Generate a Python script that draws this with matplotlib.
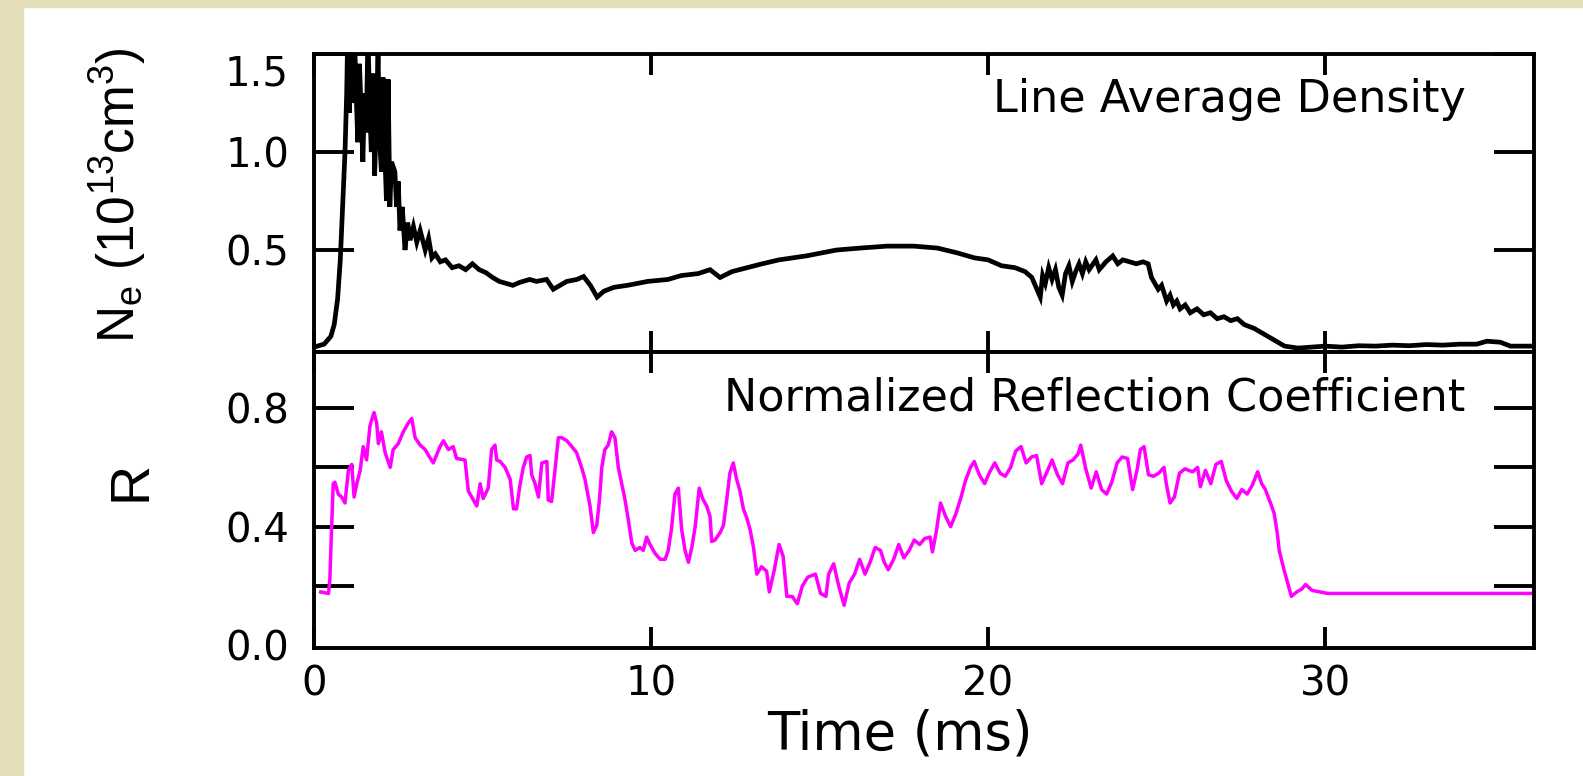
import matplotlib
matplotlib.use("Agg")
import matplotlib.pyplot as plt
from matplotlib import font_manager
from matplotlib.patches import Rectangle

# ---------------- data ----------------
density_t = [0.0, 0.3, 0.5, 0.6, 0.7, 0.78, 0.85, 0.92, 0.97, 1.0, 1.05, 1.1, 1.15, 1.2, 1.25,
             1.3, 1.35, 1.4, 1.45, 1.5, 1.55, 1.6, 1.65, 1.7, 1.75, 1.8, 1.85, 1.9, 1.95, 2.0,
             2.05, 2.1, 2.15, 2.2, 2.25, 2.3, 2.4, 2.45, 2.5, 2.55, 2.62, 2.7, 2.78, 2.85, 2.95,
             3.05, 3.15, 3.3, 3.4, 3.5, 3.6, 3.75, 3.9, 4.1, 4.3, 4.5, 4.7, 4.9, 5.1, 5.3,
             5.5, 5.7, 5.9, 6.1, 6.4, 6.6, 6.9, 7.1, 7.3, 7.5, 7.8, 8.0, 8.2, 8.4, 8.6,
             8.9, 9.3, 9.9, 10.5, 10.9, 11.4, 11.75, 12.05, 12.4, 12.85, 13.3, 13.8, 14.6, 15.5, 16.2,
             17.0, 17.8, 18.5, 19.1, 19.6, 20.0, 20.4, 20.8, 21.1, 21.3, 21.45, 21.55, 21.62, 21.7, 21.8,
             21.9, 22.0, 22.1, 22.2, 22.3, 22.4, 22.5, 22.6, 22.7, 22.8, 22.9, 23.0, 23.2, 23.3, 23.5,
             23.7, 23.85, 24.0, 24.2, 24.4, 24.6, 24.75, 24.85, 24.95, 25.05, 25.15, 25.3, 25.4, 25.5, 25.6,
             25.7, 25.85, 26.0, 26.2, 26.4, 26.6, 26.8, 27.0, 27.2, 27.4, 27.6, 27.9, 28.2, 28.5, 28.8,
             29.2, 29.6, 30.0, 30.5, 31.0, 31.5, 32.0, 32.5, 33.0, 33.5, 34.0, 34.5, 34.8, 35.2, 35.5,
             36.2]
density_v = [0.005, 0.02, 0.06, 0.12, 0.25, 0.45, 0.72, 1.0, 1.3, 1.6, 1.2, 1.55, 1.25, 1.6, 1.3,
             1.05, 1.45, 1.2, 0.95, 1.3, 1.1, 1.6, 1.25, 1.0, 1.4, 0.88, 1.2, 1.5, 1.05, 0.9,
             1.38, 1.0, 0.75, 1.37, 0.72, 0.95, 0.9, 0.72, 0.85, 0.6, 0.72, 0.5, 0.64, 0.55, 0.62,
             0.54, 0.6, 0.5, 0.56, 0.46, 0.48, 0.44, 0.45, 0.41, 0.42, 0.40, 0.43, 0.40, 0.385, 0.36,
             0.34, 0.33, 0.32, 0.335, 0.35, 0.34, 0.35, 0.30, 0.32, 0.34, 0.35, 0.365, 0.32, 0.26, 0.29,
             0.31, 0.32, 0.34, 0.35, 0.37, 0.38, 0.40, 0.36, 0.39, 0.41, 0.43, 0.45, 0.47, 0.50, 0.51,
             0.52, 0.52, 0.51, 0.485, 0.46, 0.45, 0.42, 0.41, 0.39, 0.36, 0.30, 0.26, 0.37, 0.33, 0.41,
             0.35, 0.40, 0.31, 0.27, 0.38, 0.42, 0.34, 0.39, 0.43, 0.38, 0.44, 0.40, 0.45, 0.40, 0.44,
             0.47, 0.43, 0.45, 0.44, 0.43, 0.44, 0.43, 0.36, 0.33, 0.30, 0.32, 0.24, 0.27, 0.22, 0.24,
             0.20, 0.22, 0.18, 0.20, 0.17, 0.18, 0.15, 0.16, 0.14, 0.15, 0.12, 0.10, 0.07, 0.04, 0.01,
             0.0, 0.005, 0.01, 0.005, 0.012, 0.01, 0.015, 0.012, 0.018, 0.015, 0.02, 0.02, 0.035, 0.03, 0.01,
             0.01]

refl_t = [0.20, 0.43, 0.47, 0.52, 0.57, 0.62, 0.72, 0.82, 0.92, 1.02, 1.12, 1.19, 1.27, 1.37, 1.46,
          1.56, 1.66, 1.78, 1.86, 1.91, 2.00, 2.11, 2.26, 2.35, 2.50, 2.65, 2.80, 2.90, 3.00, 3.15,
          3.30, 3.40, 3.54, 3.74, 3.84, 3.99, 4.13, 4.23, 4.48, 4.58, 4.73, 4.83, 4.93, 5.02, 5.17,
          5.27, 5.37, 5.42, 5.52, 5.67, 5.82, 5.92, 6.01, 6.11, 6.21, 6.31, 6.41, 6.46, 6.56, 6.66,
          6.76, 6.91, 6.95, 7.05, 7.15, 7.25, 7.35, 7.50, 7.65, 7.79, 7.94, 8.04, 8.19, 8.29, 8.39,
          8.47, 8.54, 8.63, 8.73, 8.83, 8.93, 9.03, 9.13, 9.23, 9.33, 9.43, 9.53, 9.67, 9.77, 9.87,
          9.97, 10.12, 10.27, 10.42, 10.51, 10.61, 10.71, 10.81, 10.91, 11.01, 11.11, 11.21, 11.31, 11.43, 11.53,
          11.65, 11.75, 11.80, 11.90, 12.05, 12.15, 12.25, 12.34, 12.44, 12.54, 12.64, 12.74, 12.84, 12.94, 13.04,
          13.14, 13.28, 13.43, 13.51, 13.65, 13.80, 13.92, 14.03, 14.19, 14.34, 14.49, 14.65, 14.88, 15.03, 15.19,
          15.27, 15.42, 15.57, 15.73, 15.88, 16.04, 16.19, 16.35, 16.50, 16.65, 16.81, 16.92, 17.04, 17.20, 17.35,
          17.50, 17.66, 17.81, 17.97, 18.12, 18.28, 18.35, 18.46, 18.59, 18.74, 18.89, 19.05, 19.20, 19.33, 19.48,
          19.59, 19.74, 19.90, 20.05, 20.20, 20.36, 20.51, 20.67, 20.82, 20.98, 21.13, 21.29, 21.44, 21.59, 21.75,
          21.90, 22.06, 22.21, 22.37, 22.52, 22.67, 22.75, 22.90, 23.06, 23.21, 23.37, 23.52, 23.67, 23.83, 23.98,
          24.14, 24.29, 24.42, 24.52, 24.63, 24.76, 24.91, 25.06, 25.22, 25.29, 25.40, 25.53, 25.68, 25.84, 26.07,
          26.22, 26.30, 26.45, 26.61, 26.76, 26.92, 27.07, 27.22, 27.38, 27.53, 27.69, 27.84, 28.00, 28.12, 28.23,
          28.38, 28.49, 28.58, 28.64, 28.77, 28.89, 29.00, 29.16, 29.31, 29.42, 29.62, 29.85, 30.08, 36.20]
refl_v = [0.18, 0.175, 0.22, 0.39, 0.545, 0.55, 0.51, 0.50, 0.48, 0.59, 0.61, 0.50, 0.545, 0.59, 0.67,
          0.625, 0.74, 0.785, 0.75, 0.68, 0.72, 0.65, 0.60, 0.66, 0.68, 0.72, 0.75, 0.765, 0.70, 0.675,
          0.66, 0.64, 0.615, 0.67, 0.69, 0.66, 0.67, 0.63, 0.625, 0.52, 0.49, 0.47, 0.545, 0.495, 0.53,
          0.66, 0.675, 0.625, 0.62, 0.60, 0.56, 0.46, 0.46, 0.54, 0.60, 0.635, 0.64, 0.575, 0.545, 0.50,
          0.615, 0.62, 0.49, 0.485, 0.59, 0.70, 0.70, 0.69, 0.67, 0.65, 0.60, 0.56, 0.47, 0.38, 0.405,
          0.49, 0.60, 0.66, 0.675, 0.72, 0.70, 0.60, 0.545, 0.49, 0.42, 0.345, 0.32, 0.33, 0.32, 0.365,
          0.34, 0.31, 0.29, 0.29, 0.32, 0.395, 0.51, 0.53, 0.39, 0.32, 0.28, 0.33, 0.40, 0.53, 0.495,
          0.47, 0.435, 0.35, 0.355, 0.38, 0.405, 0.495, 0.58, 0.615, 0.56, 0.52, 0.46, 0.43, 0.39, 0.33,
          0.24, 0.265, 0.25, 0.18, 0.25, 0.34, 0.30, 0.165, 0.165, 0.14, 0.20, 0.23, 0.24, 0.175, 0.165,
          0.24, 0.275, 0.20, 0.135, 0.21, 0.24, 0.29, 0.24, 0.28, 0.33, 0.32, 0.28, 0.255, 0.29, 0.34,
          0.295, 0.32, 0.355, 0.34, 0.36, 0.365, 0.315, 0.38, 0.48, 0.435, 0.40, 0.445, 0.50, 0.555, 0.60,
          0.62, 0.575, 0.545, 0.585, 0.615, 0.58, 0.57, 0.60, 0.655, 0.67, 0.615, 0.635, 0.64, 0.545, 0.585,
          0.625, 0.575, 0.545, 0.615, 0.625, 0.645, 0.675, 0.595, 0.53, 0.585, 0.525, 0.51, 0.55, 0.615, 0.635,
          0.63, 0.525, 0.59, 0.66, 0.67, 0.575, 0.57, 0.58, 0.60, 0.545, 0.48, 0.50, 0.58, 0.595, 0.585,
          0.60, 0.535, 0.59, 0.545, 0.61, 0.62, 0.555, 0.52, 0.495, 0.525, 0.51, 0.54, 0.585, 0.545, 0.525,
          0.48, 0.445, 0.38, 0.32, 0.26, 0.21, 0.165, 0.18, 0.19, 0.205, 0.185, 0.18, 0.175, 0.175]

x_ticks = [0, 10, 20, 30]
top_yticks = [0.5, 1.0, 1.5]
top_ylabels = ["0.5", "1.0", "1.5"]
bot_yticks = [0.0, 0.2, 0.4, 0.6, 0.8]
bot_ylabels = ["0.0", "", "0.4", "", "0.8"]

# ---------------- style ----------------
_names = {f.name for f in font_manager.fontManager.ttflist}
narrow = "Liberation Sans Narrow" if "Liberation Sans Narrow" in _names else "Liberation Sans"
plt.rcParams["font.family"] = ["DejaVu Sans"]
plt.rcParams["mathtext.fontset"] = "custom"
plt.rcParams["mathtext.rm"] = narrow
plt.rcParams["mathtext.it"] = narrow
plt.rcParams["mathtext.bf"] = narrow

W, H = 1583, 776
fig = plt.figure(figsize=(W / 100, H / 100), dpi=100, facecolor="white")
beige = "#E3DDB9"
fig.patches.append(Rectangle((0, 0), 23 / W, 1, transform=fig.transFigure, color=beige, zorder=-10))
fig.patches.append(Rectangle((0, 1 - 7 / H), 1, 7 / H, transform=fig.transFigure, color=beige, zorder=-10))

L, R = 314, 1534
ax1 = fig.add_axes([L / W, (H - 352) / H, (R - L) / W, 298 / H])
ax2 = fig.add_axes([L / W, (H - 648) / H, (R - L) / W, 296 / H])

ax1.plot(density_t, density_v, color="black", lw=3.4, solid_joinstyle="miter")
ax2.plot(refl_t, refl_v, color="#FF00FF", lw=2.5)

for ax in (ax1, ax2):
    ax.set_xlim(0, 36.2)
    for s in ax.spines.values():
        s.set_linewidth(2.8)
    ax.tick_params(axis="y", direction="in", length=29, width=2.8, left=True, right=True,
                   labelsize=29, pad=18)
    ax.tick_params(axis="x", direction="in", length=15, width=2.8, top=True, bottom=True,
                   labelsize=29, pad=12)
    ax.set_xticks(x_ticks)

ax1.set_ylim(-0.02, 1.5)
ax1.set_yticks(top_yticks)
ax1.set_yticklabels(top_ylabels)
ax1.yaxis.get_major_ticks()[-1].label1.set_verticalalignment("top")
ax1.tick_params(axis="x", labelbottom=False)

ax2.set_ylim(-0.009, 0.989)
ax2.set_yticks(bot_yticks)
ax2.set_yticklabels(bot_ylabels)
ax2.set_xticklabels([str(v) for v in x_ticks])
_t0 = ax2.yaxis.get_major_ticks()[0]
_t0.tick1line.set_visible(False)
_t0.tick2line.set_visible(False)

ax1.text(0.944, 0.805, "Line Average Density", transform=ax1.transAxes, ha="right",
         va="baseline", fontsize=32)
ax2.text(0.944, 0.804, "Normalized Reflection Coefficient", transform=ax2.transAxes,
         ha="right", va="baseline", fontsize=32)

fig.text(118 / W, 1 - 195 / H, r"N$_{\mathrm{e}}$ (10$^{\mathrm{13}}$cm$^{\mathrm{3}}$)",
         rotation=90, ha="center", va="center", fontsize=37, family=narrow)
fig.text(131 / W, 1 - 481 / H, "R", rotation=90, ha="center", va="center",
         fontsize=40, family=narrow)
fig.text(900 / W, 1 - 734 / H, "Time (ms)", ha="center", va="center", fontsize=38)

fig.savefig("out.png", dpi=100, facecolor="white")
